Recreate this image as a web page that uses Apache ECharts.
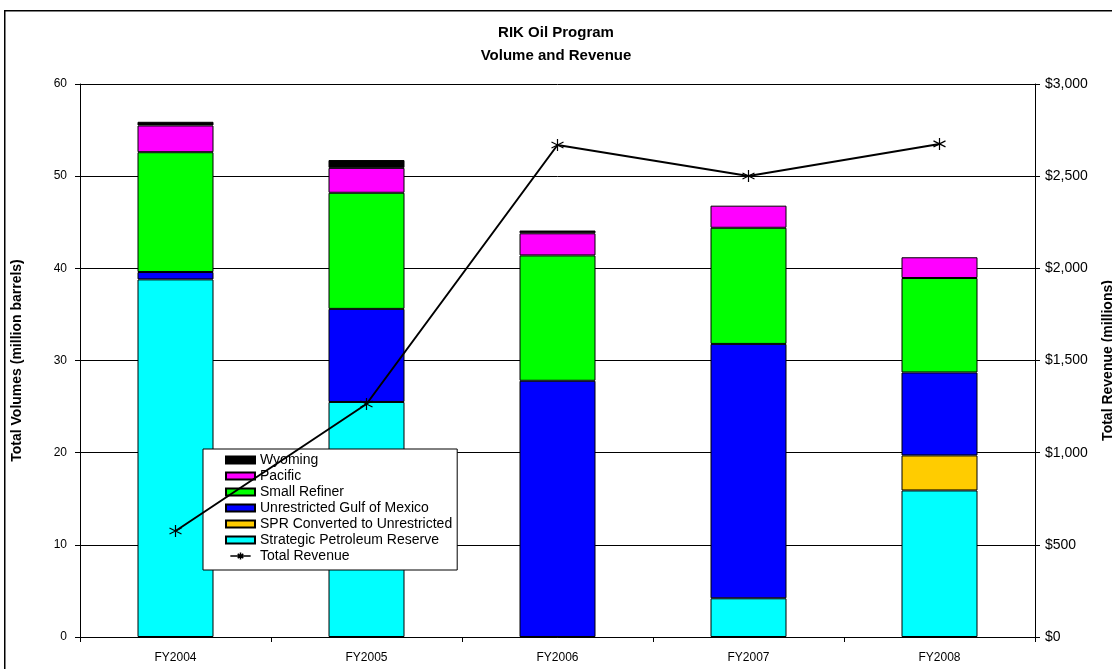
<!DOCTYPE html>
<html>
<head>
<meta charset="utf-8">
<script src="https://cdn.jsdelivr.net/npm/echarts@6/dist/echarts.min.js"></script>
<style>
html,body{margin:0;padding:0;background:#fff;}
#chart{width:1112px;height:669px;}
</style>
</head>
<body>
<div id="chart"></div>
<script>
const categories = ['FY2004', 'FY2005', 'FY2006', 'FY2007', 'FY2008'];
const strategicPetroleumReserve = [38.8, 25.5, null, 4.2, 15.9];
const sprConverted = [null, null, null, null, 3.8];
const unrestrictedGulf = [0.8, 10.1, 27.8, 27.6, 9.0];
const smallRefiner = [13.0, 12.6, 13.6, 12.6, 10.25];
const pacific = [2.9, 2.7, 2.4, 2.4, 2.25];
const wyoming = [0.4, 0.85, 0.3, null, null];
const totalRevenue = [575, 1264, 2669, 2501, 2675];
const leftTicks = [0, 10, 20, 30, 40, 50, 60];
const rightTicks = [0, 500, 1000, 1500, 2000, 2500, 3000];

const font = 'Liberation Sans, Arial, sans-serif';
const chart = echarts.init(document.getElementById('chart'));

function barSeries(name, data, color) {
  return {
    name: name, type: 'bar', stack: 'vol', data: data, barWidth: 76,
    itemStyle: { color: color, borderColor: '#000', borderWidth: 1 },
    emphasis: { disabled: true }
  };
}

const starPath = 'path://M5,0 L5,10 M0.8,2.5 L9.2,7.5 M0.8,7.5 L9.2,2.5';
const legendLineIcon = 'path://M0,5 L29,5 M14.5,0 L14.5,10 M10.5,2 L18.5,8 M10.5,8 L18.5,2';

chart.setOption({
  animation: false,
  backgroundColor: '#fff',
  graphic: [{
    type: 'rect', left: 4, top: 10, z: -1,
    shape: { x: 0, y: 0, width: 1200, height: 800 },
    style: { fill: '#fff', stroke: '#000', lineWidth: 1.5 }
  }],
  title: {
    text: 'RIK Oil Program\nVolume and Revenue',
    left: 'center', top: 16,
    textStyle: { fontFamily: font, fontSize: 15, fontWeight: 'bold', color: '#000', lineHeight: 23 }
  },
  legend: {
    orient: 'vertical', left: 203, top: 449,
    itemWidth: 29, itemHeight: 7, itemGap: 2,
    padding: [4, 5, 7, 22],
    icon: 'rect',
    backgroundColor: '#fff', borderColor: '#000', borderWidth: 1,
    textStyle: { fontFamily: font, fontSize: 14, color: '#000' },
    data: [
      { name: 'Wyoming' },
      { name: 'Pacific' },
      { name: 'Small Refiner' },
      { name: 'Unrestricted Gulf of Mexico' },
      { name: 'SPR Converted to Unrestricted' },
      { name: 'Strategic Petroleum Reserve' },
      { name: 'Total Revenue', icon: legendLineIcon,
        itemStyle: { color: 'none', borderColor: '#000', borderWidth: 1.5 } }
    ]
  },
  grid: { left: 80, right: 77, top: 84, bottom: 32, containLabel: false, outerBoundsMode: 'none' },
  xAxis: {
    type: 'category', data: categories,
    axisLine: { lineStyle: { color: '#000', width: 1 } },
    axisTick: { show: true, alignWithLabel: false, length: 5, lineStyle: { color: '#000' } },
    axisLabel: { fontFamily: font, fontSize: 12, color: '#000', margin: 15 }
  },
  yAxis: [{
    type: 'value', min: 0, max: 60, interval: 10,
    name: 'Total Volumes (million barrels)', nameLocation: 'middle', nameGap: 56, nameRotate: 90,
    nameTextStyle: { fontFamily: font, fontSize: 14, fontWeight: 'bold', color: '#000' },
    axisLine: { show: true, lineStyle: { color: '#000', width: 1 } },
    axisTick: { show: true, length: 5, lineStyle: { color: '#000' } },
    axisLabel: { fontFamily: font, fontSize: 12, color: '#000', margin: 13,
      formatter: function (v) { return leftTicks.indexOf(v) >= 0 ? String(v) : ''; } },
    splitLine: { show: true, lineStyle: { color: '#000', width: 1 } }
  }, {
    type: 'value', min: 0, max: 3000, interval: 500, position: 'right',
    name: 'Total Revenue (millions)', nameLocation: 'middle', nameGap: 66, nameRotate: 90,
    nameTextStyle: { fontFamily: font, fontSize: 14, fontWeight: 'bold', color: '#000' },
    axisLine: { show: true, lineStyle: { color: '#000', width: 1 } },
    axisTick: { show: true, length: 5, lineStyle: { color: '#000' } },
    axisLabel: { fontFamily: font, fontSize: 14, color: '#000', margin: 10,
      formatter: function (v) { return rightTicks.indexOf(v) >= 0 ? '$' + v.toLocaleString('en-US') : ''; } },
    splitLine: { show: false }
  }],
  series: [
    barSeries('Strategic Petroleum Reserve', strategicPetroleumReserve, '#00FFFF'),
    barSeries('SPR Converted to Unrestricted', sprConverted, '#FFCC00'),
    barSeries('Unrestricted Gulf of Mexico', unrestrictedGulf, '#0000FF'),
    barSeries('Small Refiner', smallRefiner, '#00FF00'),
    barSeries('Pacific', pacific, '#FF00FF'),
    barSeries('Wyoming', wyoming, '#000000'),
    {
      name: 'Total Revenue', type: 'line', yAxisIndex: 1, data: totalRevenue,
      symbol: starPath, symbolSize: 12, z: 5,
      lineStyle: { color: '#000', width: 2 },
      itemStyle: { color: 'none', borderColor: '#000', borderWidth: 1.2 },
      emphasis: { disabled: true }
    }
  ]
});
</script>
</body>
</html>
